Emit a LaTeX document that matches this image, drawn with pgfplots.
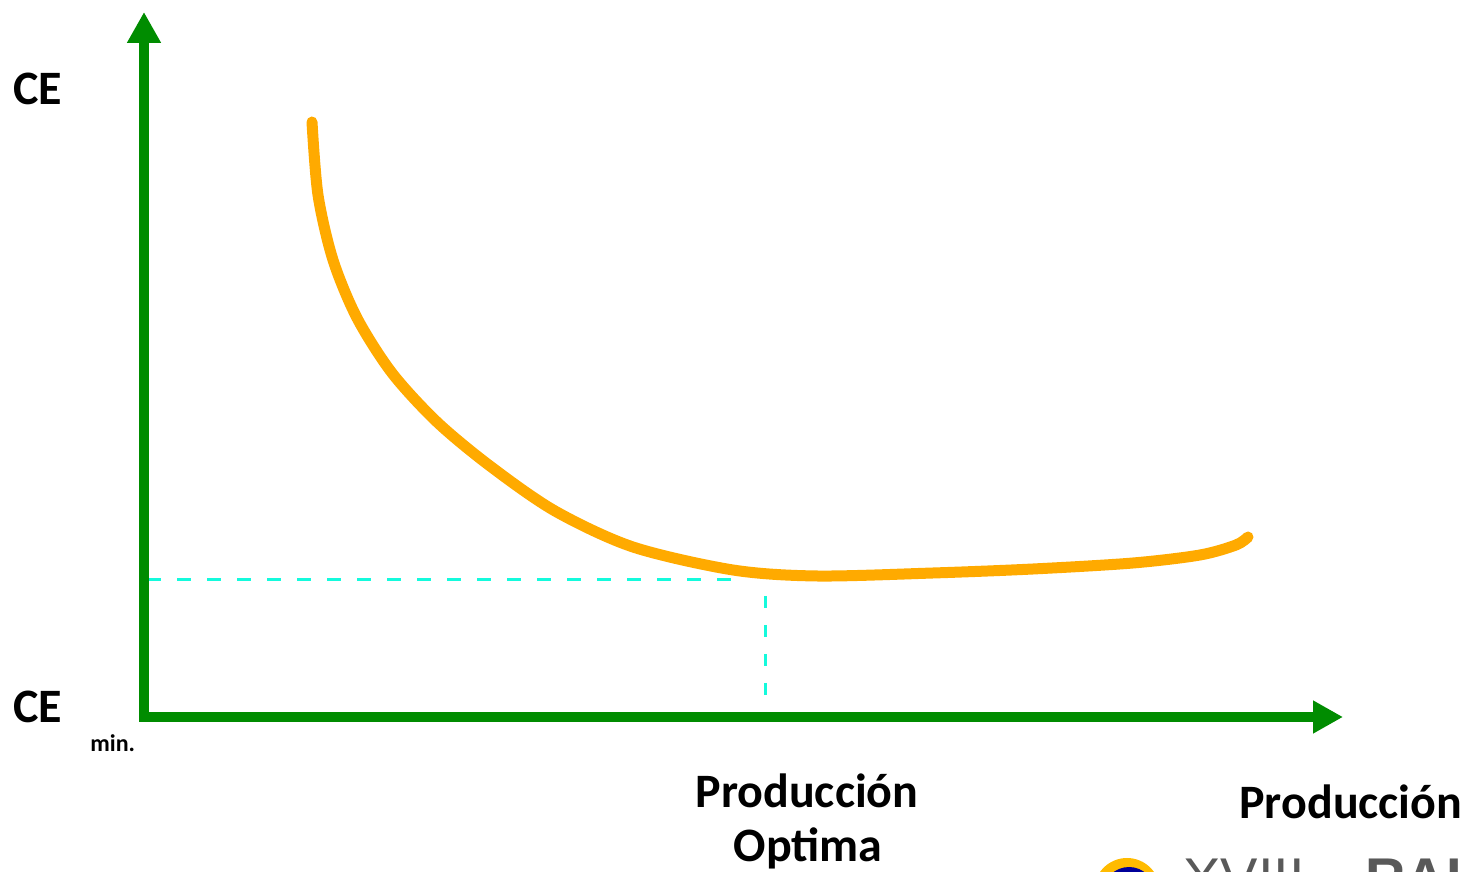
\documentclass[border=0pt]{standalone}
\usepackage{pgfplots}
\pgfplotsset{compat=1.18}
\usetikzlibrary{arrows.meta}
\usepackage{fontspec}
\setmainfont{Carlito}
\newfontfamily\logofont{Liberation Sans}
\definecolor{axgreen}{RGB}{0,140,0}
\definecolor{curveorange}{RGB}{255,170,0}
\definecolor{dashcyan}{RGB}{20,250,220}
\begin{document}
\begin{tikzpicture}
\begin{axis}[
  scale only axis, width=730.5pt, height=436pt,
  xmin=0, xmax=1461, ymin=0, ymax=872,
  hide axis, clip=false,
]
% dashed guide lines
\addplot[dashcyan, line width=1.5pt, dash pattern=on 7pt off 8pt] coordinates {(147,292) (735,292)};
\addplot[dashcyan, line width=1.5pt, dash pattern=on 6pt off 8.5pt] coordinates {(765,276) (765,152)};
% axes
\addplot[draw=axgreen, line width=5pt, line join=miter,
  {Triangle[length=15.5pt,width=16pt]}-{Triangle[length=15pt,width=15.5pt]}]
  coordinates {(144,860) (144,155) (1343,155)};
% cost curve
\addplot[curveorange, line width=5.5pt, line cap=round, smooth, tension=0.5] coordinates {
(312,750) (318,677) (333,612) (357,554) (392,499) (437,450) (490,406) (555,361)
(633,325) (733,302) (817,296) (933,299) (1033,303) (1133,309) (1200,317) (1236,327) (1248,335)};
% labels
\node[anchor=base west, inner sep=0, font=\fontsize{24}{28}\selectfont\bfseries] at (axis cs:13,767) {CE};
\node[anchor=base west, inner sep=0, font=\fontsize{24}{28}\selectfont\bfseries] at (axis cs:13,149) {CE};
\node[anchor=base west, inner sep=0, font=\fontsize{12}{15}\selectfont\bfseries] at (axis cs:90,120) {min.};
\node[anchor=base, inner sep=0, font=\fontsize{24}{28}\selectfont\bfseries] at (axis cs:807,64) {Producción};
\node[anchor=base, inner sep=0, font=\fontsize{24}{28}\selectfont\bfseries] at (axis cs:808,10) {Optima};
\node[anchor=base west, inner sep=0, font=\fontsize{24}{28}\selectfont\bfseries] at (axis cs:1239,53) {Producción};
% partially visible logo
\fill[curveorange!80!yellow] (axis cs:1127,-19) circle[radius=16.5pt];
\fill[blue!60!black] (axis cs:1129,-21) circle[radius=13pt];
\node[anchor=north west, inner sep=0, text=black!65, font=\logofont\fontsize{28}{32}\selectfont] at (axis cs:1183,13) {XVIII};
\node[anchor=north west, inner sep=0, text=black!65, font=\logofont\fontsize{28}{32}\selectfont\bfseries] at (axis cs:1365,13) {RAI};
\end{axis}
\pgfresetboundingbox
\path[use as bounding box] (current axis.south west) rectangle (current axis.north east);
\end{tikzpicture}
\end{document}
